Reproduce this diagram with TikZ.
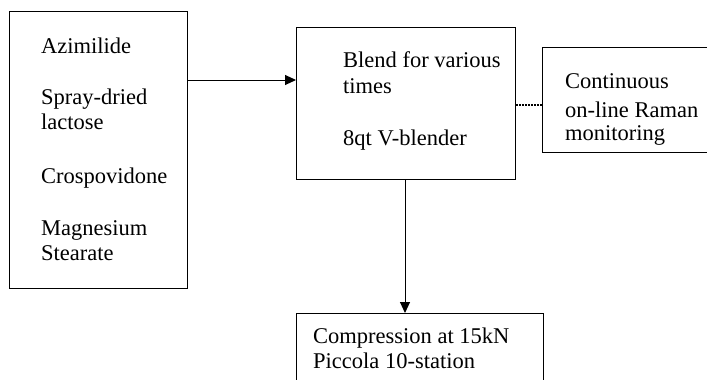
\documentclass[tikz,border=0pt]{standalone}
\usepackage{fontspec}
\setmainfont{Liberation Serif}
\usetikzlibrary{arrows.meta}
\begin{document}
\begin{tikzpicture}[x=1pt,y=-1pt,
  box/.style={draw, line width=1pt, rectangle, inner sep=0pt, anchor=north west},
  txt/.style={anchor=base west, inner sep=0pt, font=\fontsize{22.5}{25}\selectfont},
  arr/.style={line width=1pt, -{Triangle[length=11pt,width=10pt]}}]
\clip (0,0) rectangle (707,380);
\node[box, minimum width=178pt, minimum height=277pt] (ing) at (9,11) {};
\node[box, minimum width=219pt, minimum height=152pt] (blend) at (296,27) {};
\node[box, minimum width=200pt, minimum height=105pt] (raman) at (542,47) {};
\node[box, minimum width=247pt, minimum height=100pt] (comp) at (296,313) {};
% texts
\node[txt] (t1) at (41,53) {Azimilide};
\node[txt] (t2) at (41,104) {Spray-dried};
\node[txt] (t3) at (41,129) {lactose};
\node[txt] (t4) at (41,183) {Crospovidone};
\node[txt] (t5) at (41,235) {Magnesium};
\node[txt] (t6) at (41,260) {Stearate};
\node[txt] (b1) at (343,67) {Blend for various};
\node[txt] (b2) at (343,93) {times};
\node[txt] (b3) at (343,145) {8qt V-blender};
\node[txt] (r1) at (565,88) {Continuous};
\node[txt] (r2) at (565,117) {on-line Raman};
\node[txt] (r3) at (565,140) {monitoring};
\node[txt] (c1) at (313,343) {Compression at 15kN};
\node[txt] (c2) at (313,368) {Piccola 10-station};
% connectors
\coordinate (ya) at (0,80);
\coordinate (yb) at (0,105);
\coordinate (xc) at (405,0);
\draw[arr] (ing.east |- ya) -- (blend.west |- ya);
\draw[line width=1.2pt, dash pattern=on 1.5pt off 1.5pt] (blend.east |- yb) -- (raman.west |- yb);
\draw[arr] (blend.south -| xc) -- (comp.north -| xc);
\end{tikzpicture}
\end{document}
